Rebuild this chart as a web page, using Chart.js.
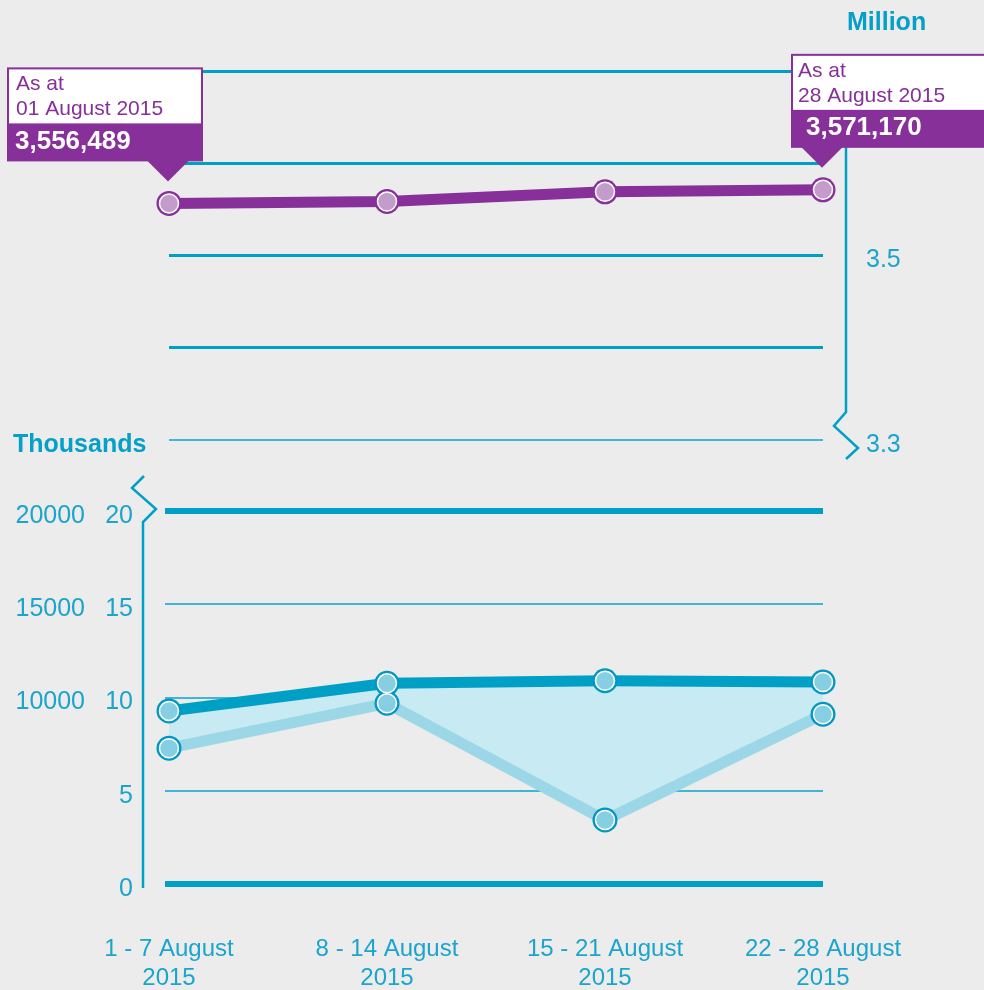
<!DOCTYPE html>
<html>
<head>
<meta charset="utf-8">
<script src="https://cdn.jsdelivr.net/npm/chart.js@4.4.1/dist/chart.umd.min.js"></script>
<style>
  html, body { margin: 0; padding: 0; background: #ebeceb; width: 984px; height: 990px; overflow: hidden; }
  canvas { position: absolute; left: 0; top: 0; }
</style>
</head>
<body>
<canvas id="topChart" width="984" height="990"></canvas>
<canvas id="bottomChart" width="984" height="990"></canvas>
<script>
// ---------- data ----------
const weeks = [["1 - 7 August", "2015"], ["8 - 14 August", "2015"], ["15 - 21 August", "2015"], ["22 - 28 August", "2015"]];
const totalMillions = [3.556489, 3.5585, 3.569, 3.571170];
const weeklyUpper = [9.28, 10.76, 10.9, 10.83];   // thousands
const weeklyLower = [7.28, 9.69, 3.43, 9.1];      // thousands
const calloutDates = ["01 August 2015", "28 August 2015"];
const millionTickLabels = [3.5, 3.3];
const thousandsTickLabels = [20, 15, 10, 5, 0];
const unitsTickLabels = [20000, 15000, 10000];

// ---------- styles ----------
const FONT = '"Liberation Sans", Arial, Helvetica, sans-serif';
const TEAL = '#00a0c6';
const THIN = '#40b5d5';
const TEXT = '#1ba4cc';
const TITLE = '#069fc9';
const PURPLE = '#87309a';
const PURPLE_IN = '#c49ccb';
const LIGHT = '#9cd7e7';
const FILL = '#c8eaf2';
const PT_OUT = '#0097c2';
const PT_IN = '#86cfe3';

Chart.defaults.font.family = FONT;
Chart.defaults.animation = false;

// ---------- top chart (millions) ----------
const topDecor = {
  id: 'topDecor',
  beforeDatasetsDraw(chart) {
    const ctx = chart.ctx, ca = chart.chartArea, ys = chart.scales.y;
    const ax = ca.right + 23;
    const y33 = ys.getPixelForValue(3.3), yTop = ys.getPixelForValue(3.7);
    ctx.save();
    ctx.strokeStyle = TEAL; ctx.lineWidth = 2.5; ctx.lineJoin = 'miter';
    ctx.beginPath();
    ctx.moveTo(ax, yTop);
    ctx.lineTo(ax, y33 - 28);
    ctx.lineTo(ax - 12, y33 - 14);
    ctx.lineTo(ax + 12, y33 + 8);
    ctx.lineTo(ax, y33 + 19);
    ctx.stroke();
    ctx.fillStyle = TITLE; ctx.font = 'bold 25px ' + FONT;
    ctx.textBaseline = 'middle'; ctx.textAlign = 'left';
    ctx.fillText('Million', ax + 1, 23);
    ctx.fillText('Thousands', 13, y33 + 5);
    ctx.restore();
  },
  afterDraw(chart) {
    const ctx = chart.ctx;
    const meta = chart.getDatasetMeta(0);
    const callouts = [
      { i: 0, dx: -161, w: 196, tx: 9, vx: 8 },
      { i: totalMillions.length - 1, dx: -31, w: 240, tx: 7, vx: 15 }
    ];
    ctx.save();
    callouts.forEach((c, k) => {
      const p = meta.data[c.i];
      const apexX = p.x - 1, apexY = p.y - 22;
      const bottom = apexY - 20, top = bottom - 94, left = apexX + c.dx;
      ctx.fillStyle = PURPLE;
      ctx.fillRect(left, top, c.w, 94);
      ctx.beginPath();
      ctx.moveTo(apexX - 21, bottom - 1); ctx.lineTo(apexX + 21, bottom - 1); ctx.lineTo(apexX, apexY);
      ctx.closePath(); ctx.fill();
      ctx.fillStyle = '#ffffff';
      ctx.fillRect(left + 2, top + 2, c.w - 4, 54);
      ctx.fillStyle = PURPLE; ctx.font = '21px ' + FONT;
      ctx.textBaseline = 'middle'; ctx.textAlign = 'left';
      ctx.fillText('As at', left + c.tx, top + 17);
      ctx.fillText(calloutDates[k], left + c.tx, top + 42);
      ctx.fillStyle = '#ffffff'; ctx.font = 'bold 26px ' + FONT;
      ctx.fillText(Math.round(totalMillions[c.i] * 1e6).toLocaleString('en-US'), left + c.vx, top + 74);
    });
    ctx.restore();
  }
};

new Chart(document.getElementById('topChart'), {
  type: 'line',
  data: {
    labels: weeks,
    datasets: [
      { data: totalMillions, borderColor: PURPLE, borderWidth: 11, pointRadius: 12.5,
        pointBackgroundColor: PURPLE, pointBorderWidth: 0, fill: false, clip: false, order: 1 },
      { data: totalMillions, showLine: false, pointRadius: 9.5, pointBackgroundColor: PURPLE_IN,
        pointBorderColor: '#ffffff', pointBorderWidth: 1.5, clip: false, order: 0 }
    ]
  },
  options: {
    responsive: false,
    animation: false,
    events: [],
    layout: { padding: { left: 169, top: 71, right: 0, bottom: 550 } },
    plugins: { legend: { display: false }, tooltip: { enabled: false } },
    scales: {
      x: { type: 'category', display: false },
      y: {
        position: 'right', min: 3.3, max: 3.7,
        afterFit: s => { s.width = 161; },
        border: { display: false },
        grid: {
          drawTicks: false,
          color: c => (Math.abs(c.tick.value - 3.3) < 1e-6 ? THIN : TEAL),
          lineWidth: c => (Math.abs(c.tick.value - 3.3) < 1e-6 ? 2 : 3)
        },
        ticks: {
          stepSize: 0.1, padding: 43, labelOffset: 5, color: TEXT, font: { size: 25 },
          callback: v => {
            const r = Math.round(v * 10) / 10;
            return millionTickLabels.includes(r) ? r.toFixed(1) : '';
          }
        }
      }
    }
  },
  plugins: [topDecor]
});

// ---------- bottom chart (thousands) ----------
const bottomDecor = {
  id: 'bottomDecor',
  beforeDatasetsDraw(chart) {
    const ctx = chart.ctx, ca = chart.chartArea, ys = chart.scales.y;
    const ax = ca.left - 26;
    const y20 = ys.getPixelForValue(20), y0 = ys.getPixelForValue(0);
    ctx.save();
    ctx.strokeStyle = TEAL; ctx.lineWidth = 2.5; ctx.lineJoin = 'miter';
    ctx.beginPath();
    ctx.moveTo(ax + 1, y20 - 35);
    ctx.lineTo(ax - 11, y20 - 23);
    ctx.lineTo(ax + 13, y20 - 2);
    ctx.lineTo(ax, y20 + 11);
    ctx.lineTo(ax, y0 + 4);
    ctx.stroke();
    ctx.restore();
  }
};

new Chart(document.getElementById('bottomChart'), {
  type: 'line',
  data: {
    labels: weeks,
    datasets: [
      { data: weeklyUpper, borderColor: TEAL, borderWidth: 11, pointRadius: 12.5,
        pointBackgroundColor: PT_OUT, pointBorderWidth: 0, fill: false, clip: false, order: 1 },
      { data: weeklyLower, borderColor: LIGHT, borderWidth: 11, pointRadius: 12.5,
        pointBackgroundColor: PT_OUT, pointBorderWidth: 0, fill: { target: 0 }, backgroundColor: FILL,
        clip: false, order: 2 },
      { data: weeklyUpper, showLine: false, pointRadius: 9.5, pointBackgroundColor: PT_IN,
        pointBorderColor: '#ffffff', pointBorderWidth: 1.5, clip: false, order: 0 },
      { data: weeklyLower, showLine: false, pointRadius: 9.5, pointBackgroundColor: PT_IN,
        pointBorderColor: '#ffffff', pointBorderWidth: 1.5, clip: false, order: 0 }
    ]
  },
  options: {
    responsive: false,
    animation: false,
    events: [],
    layout: { padding: { left: 0, top: 511, right: 161, bottom: 0 } },
    plugins: { legend: { display: false }, tooltip: { enabled: false } },
    scales: {
      x: {
        type: 'category',
        afterFit: s => { s.height = 106; },
        grid: { display: false }, border: { display: false },
        ticks: { color: TEXT, font: { size: 24 }, padding: 43, maxRotation: 0, autoSkip: false }
      },
      y: {
        position: 'left', weight: 0, min: 0, max: 20,
        afterFit: s => { s.width = 64; },
        border: { display: false },
        grid: {
          drawTicks: true, tickLength: 4,
          color: c => ((c.tick.value === 0 || c.tick.value === 20) ? TEAL : THIN),
          lineWidth: c => ((c.tick.value === 0 || c.tick.value === 20) ? 6 : 2)
        },
        ticks: {
          stepSize: 5, padding: 32, labelOffset: 5, color: TEXT, font: { size: 25 },
          callback: v => (thousandsTickLabels.includes(v) ? String(v) : '')
        }
      },
      y2: {
        position: 'left', weight: 1, min: 0, max: 20,
        afterFit: s => { s.width = 105; },
        border: { display: false },
        grid: { display: false, drawTicks: false },
        ticks: {
          stepSize: 5, padding: 20, labelOffset: 5, color: TEXT, font: { size: 25 },
          callback: v => (unitsTickLabels.includes(v * 1000) ? String(v * 1000) : '')
        }
      }
    }
  },
  plugins: [bottomDecor]
});
</script>
</body>
</html>
